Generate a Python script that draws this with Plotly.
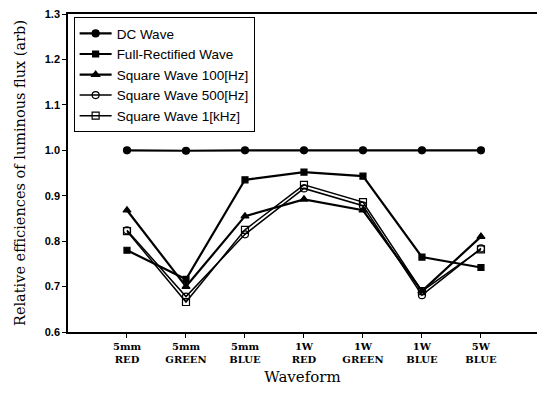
import plotly.graph_objects as go

# LED types along the x axis
categories = ["5mm<br>RED", "5mm<br>GREEN", "5mm<br>BLUE", "1W<br>RED",
              "1W<br>GREEN", "1W<br>BLUE", "5W<br>BLUE"]

# Relative luminous-flux efficiency for each drive waveform
dc_wave = [1.000, 0.999, 1.000, 1.000, 1.000, 1.000, 1.000]
full_rectified = [0.780, 0.716, 0.935, 0.952, 0.943, 0.765, 0.742]
square_100hz = [0.868, 0.700, 0.855, 0.892, 0.868, 0.690, 0.810]
square_500hz = [0.824, 0.678, 0.815, 0.916, 0.878, 0.681, 0.784]
square_1khz = [0.822, 0.666, 0.825, 0.924, 0.886, 0.690, 0.782]

y_ticks = [0.6, 0.7, 0.8, 0.9, 1.0, 1.1, 1.2, 1.3]

xpos = list(range(len(categories)))

series = [
    ("DC Wave", dc_wave, "circle", 7, 2.2),
    ("Full-Rectified Wave", full_rectified, "square", 6, 2.2),
    ("Square Wave 100[Hz]", square_100hz, "triangle-up", 7, 2.2),
    ("Square Wave 500[Hz]", square_500hz, "circle-open", 7, 1.5),
    ("Square Wave 1[kHz]", square_1khz, "square-open", 7, 1.5),
]

serif = "DejaVu Serif, Times New Roman, serif"
sans = "Liberation Sans, Arial, sans-serif"

fig = go.Figure()
for name, vals, sym, size, lw in series:
    fig.add_trace(go.Scatter(
        x=xpos, y=vals, name=name, mode="lines+markers",
        line=dict(color="black", width=lw),
        marker=dict(symbol=sym, size=size, color="black",
                    line=dict(color="black", width=1.2)),
    ))

fig.update_layout(
    width=537, height=397,
    margin=dict(l=68, r=0, t=14, b=65),
    paper_bgcolor="white", plot_bgcolor="white",
    showlegend=True,
    legend=dict(
        x=0.012, y=0.99, xanchor="left", yanchor="top",
        bordercolor="black", borderwidth=1, bgcolor="white",
        font=dict(family=sans, size=13.5, color="black"),
        tracegroupgap=0, itemwidth=32,
    ),
    xaxis=dict(
        range=[-1, 6.95], tickvals=xpos, ticktext=categories,
        showgrid=False, zeroline=False,
        showline=True, linecolor="black", linewidth=1.5, mirror=True,
        ticks="outside", ticklen=4, tickcolor="black",
        tickfont=dict(family=serif, size=10, color="black", weight="bold"),
        title=dict(text="Waveform", standoff=8,
                   font=dict(family=serif, size=15, color="black")),
    ),
    yaxis=dict(
        range=[0.6, 1.3], tickvals=y_ticks, tickformat=".1f",
        showgrid=False, zeroline=False,
        showline=True, linecolor="black", linewidth=1.5,
        ticks="outside", ticklen=4, tickcolor="black",
        tickfont=dict(family=sans, size=11, color="black", weight="bold"),
        title=dict(text="Relative efficiences of luminous flux (arb)", standoff=16,
                   font=dict(family=serif, size=14.5, color="black")),
    ),
)

fig.write_html("out.html")
